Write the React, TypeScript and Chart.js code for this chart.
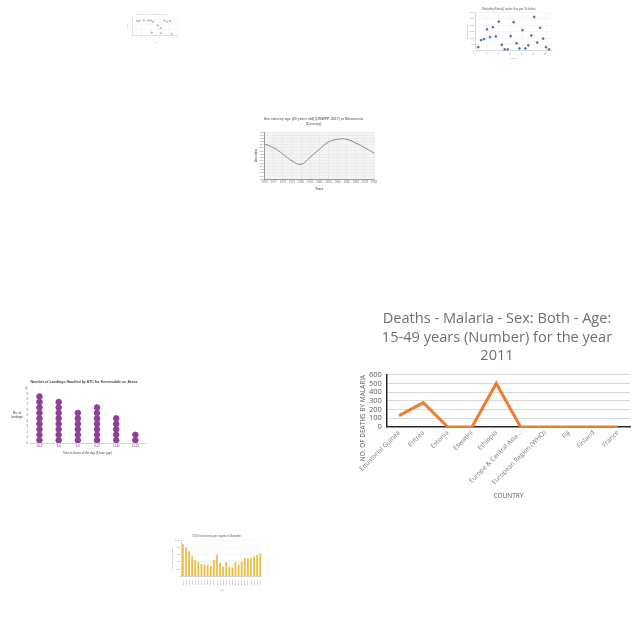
import React, { useEffect, useRef } from "react";
import { Chart, registerables } from "chart.js";

Chart.register(...registerables);

// ---------- Main chart data (Malaria) ----------
const malariaCountries = [
  "Equatorial Guinea",
  "Eritrea",
  "Estonia",
  "Eswatini",
  "Ethiopia",
  "Europe & Central Asia...",
  "European Region (WHO)",
  "Fiji",
  "Finland",
  "France",
];
const malariaDeaths = [130, 280, 0, 0, 500, 0, 0, 0, 0, 0];
const malariaTitle = ["Deaths - Malaria - Sex: Both - Age:", "15-49 years (Number) for the year", "2011"];

// ---------- Top-right scatter ----------
const mortalityX = [1, 2, 3, 4, 5, 6, 7, 8, 9, 10, 11, 12, 13, 14, 15, 16, 17, 18, 19, 20, 21, 22, 23, 24, 25];
const mortalityY = [29, 84, 91, 168, 108, 185, 113, 228, 48, 12, 12, 115, 223, 60, 19, 161, 19, 43, 120, 264, 65, 180, 96, 29, 12];

// ---------- Top-left faint scatter ----------
const faintX = [1, 1.5, 2.5, 3.5, 4, 4.5, 5.5, 6.2, 7, 7.6, 8.3, 4.2, 6.3, 8.6];
const faintY = [8, 8, 8.3, 8.3, 8.3, 7.6, 5.5, 4, 8.3, 7.6, 8, 1.5, 1.2, 0.8];

// ---------- Center line chart ----------
const sexRatioYears = ["1976", "1977", "1978", "1979", "1980", "1981", "1982", "1983", "1984", "1985", "1986", "1987", "1988"];
const sexRatioValues = [111.2, 110.0, 108.0, 105.8, 104.7, 107.0, 109.5, 111.8, 112.7, 112.7, 111.5, 110.0, 108.3];

// ---------- Dot chart ----------
const landingSlots = ["00-3", "3-6", "6-9", "9-12", "12-15", "15-18"];
const landingCounts = [9, 8, 6, 7, 5, 2];

// ---------- Bar chart ----------
const barYears = ["1990", "1991", "1992", "1993", "1994", "1995", "1996", "1997", "1998", "1999", "2000", "2001", "2002", "2003", "2004", "2005", "2006", "2007", "2008", "2009", "2010", "2011", "2012", "2013", "2014", "2015"];
const barValues = [900, 810, 700, 560, 450, 400, 350, 320, 320, 290, 460, 610, 380, 270, 400, 270, 250, 400, 330, 420, 510, 500, 520, 560, 590, 640];

function useChart(makeConfig: () => any) {
  const ref = useRef<HTMLCanvasElement | null>(null);
  useEffect(() => {
    if (!ref.current) return;
    const chart = new Chart(ref.current, makeConfig());
    return () => chart.destroy();
  }, []);
  return ref;
}

const box = (left: number, top: number, w: number, h: number): React.CSSProperties => ({
  position: "absolute",
  left,
  top,
  width: w,
  height: h,
});

// Draws a free-placed axis title (rotated or horizontal, possibly multi-line)
const freeTitlePlugin = {
  id: "freeTitle",
  afterDraw(chart: any, _args: any, opts: any) {
    if (!opts || !opts.text) return;
    const ctx = chart.ctx;
    const lines: string[] = Array.isArray(opts.text) ? opts.text : [opts.text];
    ctx.save();
    ctx.translate(opts.x, opts.y);
    if (opts.rotate) ctx.rotate(-Math.PI / 2);
    ctx.font = opts.font;
    ctx.fillStyle = opts.color;
    ctx.textAlign = "center";
    ctx.textBaseline = "middle";
    const lh = opts.lineHeight || 0;
    lines.forEach((l, i) => ctx.fillText(l, 0, (i - (lines.length - 1) / 2) * lh));
    ctx.restore();
  },
};

function MalariaChart() {
  const ref = useChart(() => ({
    type: "line",
    data: {
      labels: malariaCountries,
      datasets: [
        {
          data: malariaDeaths,
          borderColor: "#ED7D31",
          borderWidth: 3,
          pointRadius: 0,
          tension: 0,
          fill: false,
        },
      ],
    },
    plugins: [freeTitlePlugin],
    options: {
      responsive: false,
      animation: false,
      layout: { padding: { left: 14, right: 10, top: 4, bottom: 2 } },
      plugins: {
        legend: { display: false },
        tooltip: { enabled: false },
        title: {
          display: true,
          text: malariaTitle,
          color: "#6f6f6f",
          font: { family: "Open Sans", size: 14.6, weight: "normal", lineHeight: 1.25 },
          padding: { top: 0, bottom: 10 },
        },
        freeTitle: {
          text: "NO. OF DEATHS BY MALARIA",
          rotate: true,
          x: 13,
          y: 112,
          font: "6.5px 'Open Sans'",
          color: "#595959",
        },
      },
      scales: {
        x: {
          offset: true,
          grid: { display: false, drawTicks: false },
          border: { display: true, color: "#262626", width: 1.5 },
          ticks: {
            minRotation: 45,
            maxRotation: 45,
            autoSkip: false,
            color: "#7a7a7a",
            font: { family: "Open Sans", size: 6.5 },
            padding: 2,
          },
          title: {
            display: true,
            text: "COUNTRY",
            color: "#595959",
            font: { family: "Open Sans", size: 6.5 },
            padding: { top: 4, bottom: 0 },
          },
        },
        y: {
          min: 0,
          max: 600,
          grid: { color: "#d9d9d9", drawTicks: false },
          border: { display: true, color: "#262626", width: 1.5 },
          ticks: {
            stepSize: 100,
            autoSkip: false,
            color: "#595959",
            font: { family: "Open Sans", size: 7.5 },
            padding: 5,
          },
        },
      },
    },
  }));
  return (
    <div style={box(350, 306, 290, 196)}>
      <canvas ref={ref} width={290} height={196} />
    </div>
  );
}

function MortalityChart() {
  const ref = useChart(() => ({
    type: "scatter",
    data: {
      datasets: [
        {
          data: mortalityX.map((x, i) => ({ x, y: mortalityY[i] })),
          backgroundColor: "#4a6fa5",
          borderColor: "#4a6fa5",
          pointRadius: 0.9,
        },
      ],
    },
    options: {
      responsive: false,
      animation: false,
      layout: { padding: { left: 1, right: 5, top: 1, bottom: 4 } },
      plugins: {
        legend: { display: false },
        tooltip: { enabled: false },
        title: {
          display: true,
          text: "Mortality Rate(s) under five per 1k births",
          color: "#888",
          font: { size: 2.8 },
          padding: { top: 1, bottom: 1 },
        },
      },
      scales: {
        x: {
          min: 0,
          max: 26,
          grid: { color: "#eeeeee", lineWidth: 0.5, drawTicks: false },
          border: { color: "#bbb", width: 0.5 },
          ticks: { stepSize: 2, color: "#999", font: { size: 2.5 }, padding: 1 },
          title: { display: true, text: "Years", color: "#999", font: { size: 2.5 }, padding: 0 },
        },
        y: {
          min: 0,
          max: 300,
          grid: { color: "#eeeeee", lineWidth: 0.5, drawTicks: false },
          border: { color: "#bbb", width: 0.5 },
          ticks: { stepSize: 50, color: "#999", font: { size: 2.5 }, padding: 1 },
          title: { display: true, text: "Mortality Rate", color: "#999", font: { size: 2.5 }, padding: 0 },
        },
      },
    },
  }));
  return (
    <div style={box(465, 6, 92, 58)}>
      <canvas ref={ref} width={92} height={58} />
    </div>
  );
}

function FaintChart() {
  const ref = useChart(() => ({
    type: "scatter",
    data: {
      datasets: [
        {
          data: faintX.map((x, i) => ({ x, y: faintY[i] })),
          backgroundColor: "#b8b8b8",
          borderColor: "#b8b8b8",
          pointRadius: 0.7,
        },
      ],
    },
    options: {
      responsive: false,
      animation: false,
      layout: { padding: { left: 3, right: 6, top: 1, bottom: 3 } },
      plugins: {
        legend: { display: false },
        tooltip: { enabled: false },
        title: {
          display: true,
          text: "Indicator by country over time",
          color: "#c8c8c8",
          font: { size: 2 },
          padding: { top: 1, bottom: 2 },
        },
      },
      scales: {
        x: {
          min: 0,
          max: 10,
          grid: { color: "#f1f1f1", lineWidth: 0.5, drawTicks: false },
          border: { color: "#ccc", width: 0.5 },
          ticks: { stepSize: 1, color: "#ccc", font: { size: 2 }, padding: 1 },
          title: { display: true, text: "Year", color: "#ccc", font: { size: 2 }, padding: 1 },
        },
        y: {
          min: 0,
          max: 10,
          grid: { color: "#f1f1f1", lineWidth: 0.5, drawTicks: false },
          border: { color: "#ccc", width: 0.5 },
          ticks: { stepSize: 1, color: "#ccc", font: { size: 2 }, padding: 1 },
          title: { display: true, text: "Value", color: "#ccc", font: { size: 2 }, padding: 1 },
        },
      },
    },
  }));
  return (
    <div style={box(122, 11, 62, 37)}>
      <canvas ref={ref} width={62} height={37} />
    </div>
  );
}

function SexRatioChart() {
  const bgPlugin = {
    id: "plotBg",
    beforeDraw(chart: any) {
      const { ctx, chartArea } = chart;
      if (!chartArea) return;
      ctx.save();
      ctx.fillStyle = "#f4f4f4";
      ctx.fillRect(chartArea.left, chartArea.top, chartArea.right - chartArea.left, chartArea.bottom - chartArea.top);
      ctx.restore();
    },
  };
  const ref = useChart(() => ({
    type: "line",
    data: {
      labels: sexRatioYears,
      datasets: [
        {
          data: sexRatioValues,
          borderColor: "#8a8a8a",
          borderWidth: 1,
          pointRadius: 0,
          tension: 0.4,
        },
      ],
    },
    plugins: [bgPlugin],
    options: {
      responsive: false,
      animation: false,
      layout: { padding: { left: 1, right: 14, top: 1, bottom: 2 } },
      plugins: {
        legend: { display: false },
        tooltip: { enabled: false },
        title: {
          display: true,
          text: ["Sex ratio by age (20 years old) (UNWPP, 2017) in Micronesia", "(Country)"],
          color: "#777",
          font: { size: 3.5, lineHeight: 1.3 },
          padding: { top: 4, bottom: 6 },
        },
      },
      scales: {
        x: {
          grid: { color: "#e2e2e2", lineWidth: 0.5, drawTicks: false },
          border: { color: "#777", width: 0.7 },
          ticks: { color: "#777", font: { size: 2.8 }, padding: 2, maxRotation: 0, autoSkip: false },
          title: { display: true, text: "Years", color: "#666", font: { size: 3, weight: "bold" }, padding: 1 },
        },
        y: {
          min: 100,
          max: 115,
          grid: { color: "#e2e2e2", lineWidth: 0.5, drawTicks: false },
          border: { color: "#777", width: 0.7 },
          ticks: { stepSize: 1, autoSkip: false, color: "#777", font: { size: 2.4 }, padding: 1 },
          title: { display: true, text: "Sex ratio", color: "#666", font: { size: 3, weight: "bold" }, padding: 1 },
        },
      },
    },
  }));
  return (
    <div style={box(252, 112, 136, 82)}>
      <canvas ref={ref} width={136} height={82} />
    </div>
  );
}

function LandingsChart() {
  const ref = useChart(() => {
    const points: { x: string; y: number }[] = [];
    landingSlots.forEach((slot, i) => {
      for (let k = 0; k < landingCounts[i]; k++) points.push({ x: slot, y: k + 0.5 });
    });
    return {
      type: "scatter",
      data: {
        labels: landingSlots,
        datasets: [
          {
            data: points,
            backgroundColor: "#8e3f97",
            borderColor: "#8e3f97",
            pointRadius: 2.8,
          },
        ],
      },
      plugins: [freeTitlePlugin],
      options: {
        responsive: false,
        animation: false,
        layout: { padding: { left: 15, right: 5, top: 1, bottom: 3 } },
        plugins: {
          legend: { display: false },
          tooltip: { enabled: false },
          title: {
            display: true,
            text: "Number of Landings Handled by ATC for Kenemobile on Areas",
            color: "#444",
            font: { size: 3.6, weight: "bold" },
            padding: { top: 3, bottom: 4 },
          },
          freeTitle: {
            text: ["No. of", "landings"],
            rotate: false,
            x: 9,
            y: 39,
            lineHeight: 4,
            font: "3.2px sans-serif",
            color: "#444",
          },
        },
        scales: {
          x: {
            type: "category",
            labels: landingSlots,
            offset: true,
            grid: { display: false, drawTicks: false },
            border: { color: "#aaa", width: 0.5 },
            ticks: { color: "#555", font: { size: 2.8 }, padding: 2 },
            title: { display: true, text: "Time in hours of the day (3 hour gap)", color: "#444", font: { size: 3 }, padding: { top: 1, bottom: 0 } },
          },
          y: {
            min: 0,
            max: 10,
            grid: { display: false, drawTicks: false },
            border: { display: false },
            ticks: { stepSize: 1, autoSkip: false, color: "#555", font: { size: 2.6 }, padding: 2 },
          },
        },
      },
    };
  });
  return (
    <div style={box(8, 376, 142, 82)}>
      <canvas ref={ref} width={142} height={82} />
    </div>
  );
}

function BarsChart() {
  const ref = useChart(() => ({
    type: "bar",
    data: {
      labels: barYears,
      datasets: [
        {
          data: barValues,
          backgroundColor: "#ecbd3c",
          borderColor: "#e5b02a",
          borderWidth: 0.3,
          categoryPercentage: 0.85,
          barPercentage: 0.85,
        },
      ],
    },
    options: {
      responsive: false,
      animation: false,
      layout: { padding: { left: 6, right: 5, top: 1, bottom: 5 } },
      plugins: {
        legend: { display: false },
        tooltip: { enabled: false },
        title: {
          display: true,
          text: "CO2 emissions per capita in Sweden",
          color: "#888",
          font: { size: 2.8 },
          padding: { top: 3, bottom: 2 },
        },
      },
      scales: {
        x: {
          grid: { display: false, drawTicks: false },
          border: { color: "#aaa", width: 0.5 },
          ticks: { color: "#888", font: { size: 2.2 }, padding: 4, minRotation: 90, maxRotation: 90, autoSkip: false },
          title: { display: true, text: "Year", color: "#888", font: { size: 2.4 }, padding: 0 },
        },
        y: {
          min: 0,
          max: 1000,
          grid: { color: "#eeeeee", lineWidth: 0.5, drawTicks: false },
          border: { color: "#aaa", width: 0.5 },
          ticks: { stepSize: 100, color: "#888", font: { size: 2.2 }, padding: 1 },
          title: { display: true, text: "Emissions (tonnes)", color: "#888", font: { size: 2.4 }, padding: 0 },
        },
      },
    },
  }));
  return (
    <div style={box(165, 531, 102, 66)}>
      <canvas ref={ref} width={102} height={66} />
    </div>
  );
}

export default function App() {
  return (
    <div style={{ position: "fixed", left: 0, top: 0, width: 640, height: 640, background: "#ffffff", overflow: "hidden" }}>
      <FaintChart />
      <MortalityChart />
      <SexRatioChart />
      <LandingsChart />
      <BarsChart />
      <MalariaChart />
    </div>
  );
}
